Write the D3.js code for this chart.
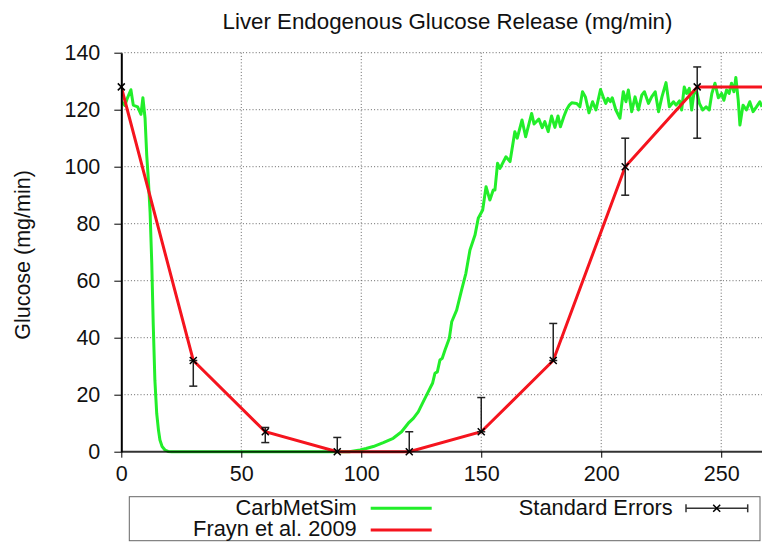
<!DOCTYPE html>
<html>
<head>
<meta charset="utf-8">
<script src="https://cdn.jsdelivr.net/npm/d3@7"></script>
<style>
    body { margin: 0; background: #fff; }
    text { font-family: "Liberation Sans", Arial, sans-serif; fill: #111; }
    .grid line { stroke: #666; stroke-width: 1; stroke-dasharray: 1, 2.2; }
    .axis path, .axis line { stroke: #000; }
    .axis text { font-size: 21.5px; fill: #111; }
</style>
</head>
<body>
<div id="chart"></div>
<script>

// tick labels
var xTicks = [0, 50, 100, 150, 200, 250];
var yTicks = [0, 20, 40, 60, 80, 100, 120, 140];

// CarbMetSim simulation (minutes, mg/min)
var simX = [0, 1.5, 2.5, 4, 5, 6.8, 8.2, 9, 9.9, 10.6, 11.3, 12, 12.7, 13.3, 14, 14.75, 15.5, 16.1, 17, 18.2, 19.5, 21,
    95, 99.5, 102, 105, 109.2, 113.3, 116.8, 119.6, 121.7, 123.75, 125.8, 127.9, 129.7, 130.7, 131.7, 132.8, 133.75,
    134.9, 136.7, 137.7, 139.75, 141.8, 143.6, 145.3, 146.7, 147.4, 148.75, 150.6, 152, 153.6, 155, 155.7, 156.8, 157.8,
    160.3, 162, 164, 165, 167, 168.5, 171, 172, 174, 175.4, 176.5, 177.9, 179.3, 180.7, 182, 183, 184.4, 185.6, 186.7,
    187.7, 189.8, 191.1, 192.2, 193.4, 194.9, 196.4, 197.8, 199.7, 200.8, 201.9, 202.8, 203.8, 204.6, 206.1, 207.8,
    209.2, 210.3, 211.3, 212.7, 214.1, 215.5, 216.9, 218, 219.7, 221, 222.5, 223.9, 225.3, 227, 228.4, 230.1, 231.2,
    232.6, 233.5, 234.6, 235.6, 236.7, 237.7, 238.6, 239.8, 240.9, 242.3, 243.7, 245, 246.1, 247.4, 248.8, 250.2,
    251.1, 252.2, 253.3, 254.3, 255.3, 256.1, 257.1, 257.8, 259.1, 260.5, 261.9, 263.3, 264.7, 266.1, 267];
var simY = [123, 121.5, 124, 127, 121.6, 121, 118.4, 124.2, 117, 104, 95, 84, 66, 45, 25, 13.5, 7.5, 4.1, 1.8, 0.6, 0.1, 0,
    0, 0.6, 1.1, 1.8, 3.2, 4.7, 7, 10, 11.7, 14, 17.5, 21, 24, 27.5, 28, 32.2, 32.8,
    35.7, 39.8, 45.6, 49.7, 56.7, 62.6, 70.8, 74.3, 76, 81.9, 84.8, 93, 88.3, 91.8, 91.8, 101.2, 99.4,
    103.5, 101.8, 112.3, 110, 116.4, 110.5, 118.7, 115, 116.7, 113.7, 115.8, 112.3, 117.8, 113.8, 117.8, 114, 117.5, 120.1, 121.6,
    122.4, 122.2, 121, 126.3, 124.5, 118.9, 122.8, 119.9, 127.1, 124.5, 122.2, 124, 122.8, 124.2, 119.9, 117,
    126.3, 122.8, 126.9, 119.3, 124.5, 119.9, 125.1, 126.3, 122.2, 124.5, 126.3, 119.3, 124.5, 129.5, 121, 122.8, 121.6,
    123.1, 119.9, 128, 125.7, 127.5, 119.9, 125.7, 126.3, 122.2, 119.9, 121, 119.9, 125.7, 129.3, 124.2, 125.7,
    123.3, 126.9, 125.7, 129.3, 126.3, 131.3, 123.3, 114.6, 121.6, 119.9, 122.8, 119.3, 121, 122.8, 121];

// Frayn et al. 2009 measurements
var fraynX = [0, 30, 60, 90, 120, 150, 180, 210, 240, 270];
var fraynY = [128, 32, 7, 0, 0, 7, 32, 100, 128, 128];

// standard errors (low / high end of each bar)
var errX = [0, 30, 60, 90, 120, 150, 180, 210, 240];
var errY = [128, 32, 7, 0, 0, 7, 32, 100, 128];
var errLow = [128, 23, 3.2, 0, 0, 7, 32, 90, 110];
var errHigh = [128, 32, 8.5, 5, 7, 19, 45, 110, 135];

var legendLabels = ["CarbMetSim", "Frayn et al. 2009", "Standard Errors"];

var totalWidth = 762, totalHeight = 542;
var margin = {top: 52.7, right: 0, bottom: 90.3, left: 121.3};
var width = totalWidth - margin.left - margin.right;
var height = totalHeight - margin.top - margin.bottom;

var svg = d3.select("#chart").append("svg")
    .attr("width", totalWidth)
    .attr("height", totalHeight);

var xScale = d3.scaleLinear().domain([0, 267]).range([0, width]);
var yScale = d3.scaleLinear().domain([0, 140]).range([height, 0]);

var g = svg.append("g")
    .attr("transform", "translate(" + [margin.left, margin.top] + ")");

svg.append("defs").append("clipPath").attr("id", "plotclip")
    .append("rect").attr("x", 0).attr("y", -5).attr("width", width).attr("height", height + 10);

// dotted grid
g.append("g").attr("class", "grid")
    .selectAll("line").data(yTicks.slice(1)).enter().append("line")
    .attr("x1", 0).attr("x2", width)
    .attr("y1", function(d) { return yScale(d); })
    .attr("y2", function(d) { return yScale(d); });

g.append("g").attr("class", "grid")
    .selectAll("line").data(xTicks.slice(1)).enter().append("line")
    .attr("y1", 0).attr("y2", height)
    .attr("x1", function(d) { return xScale(d); })
    .attr("x2", function(d) { return xScale(d); });

var plot = g.append("g").attr("clip-path", "url(#plotclip)");

var line = d3.line()
    .x(function(d) { return xScale(d[0]); })
    .y(function(d) { return yScale(d[1]); });

// simulation line
plot.append("path")
    .datum(d3.zip(simX, simY))
    .attr("fill", "none")
    .attr("stroke", "#22ee2a")
    .attr("stroke-width", 3)
    .attr("stroke-linejoin", "round")
    .attr("d", line);

// measured line
plot.append("path")
    .datum(d3.zip(fraynX, fraynY))
    .attr("fill", "none")
    .attr("stroke", "#f5141e")
    .attr("stroke-width", 3)
    .attr("d", line);

// axes
var yAxis = d3.axisLeft(yScale).tickValues(yTicks).tickSize(7).tickSizeOuter(0).tickPadding(14);
g.append("g").attr("class", "axis").call(yAxis)
    .call(function(a) { a.select(".domain").attr("stroke-width", 2); });

var xAxis = d3.axisBottom(xScale).tickValues(xTicks).tickSize(6).tickSizeOuter(0).tickPadding(8);
g.append("g").attr("class", "axis")
    .attr("transform", "translate(0," + height + ")")
    .call(xAxis)
    .call(function(a) { a.select(".domain").attr("stroke-width", 2).attr("stroke-opacity", 0.8).attr("d", "M0,0H" + width); });

// error bars
var errData = errX.map(function(x, i) {
    return {x: x, y: errY[i], lo: errLow[i], hi: errHigh[i]};
});

var eb = g.append("g").selectAll("g").data(errData).enter().append("g")
    .attr("stroke", "#222").attr("stroke-width", 1.5);

eb.filter(function(d) { return d.hi > d.lo; }).each(function(d) {
    var s = d3.select(this);
    var cx = xScale(d.x);
    s.append("line").attr("x1", cx).attr("x2", cx).attr("y1", yScale(d.lo)).attr("y2", yScale(d.hi));
    [d.lo, d.hi].forEach(function(v) {
        if (v > 0) {
            s.append("line").attr("x1", cx - 4).attr("x2", cx + 4).attr("y1", yScale(v)).attr("y2", yScale(v));
        }
    });
});

// x markers
eb.append("path")
    .attr("stroke", "#000")
    .attr("d", function(d) {
        var cx = xScale(d.x), cy = yScale(d.y), r = 3.5;
        return "M" + (cx - r) + "," + (cy - r) + "L" + (cx + r) + "," + (cy + r) +
            "M" + (cx - r) + "," + (cy + r) + "L" + (cx + r) + "," + (cy - r);
    });

// title
svg.append("text")
    .attr("x", 447.5).attr("y", 28.5)
    .attr("text-anchor", "middle")
    .style("font-size", "22.3px")
    .text("Liver Endogenous Glucose Release (mg/min)");

// y label
svg.append("text")
    .attr("text-anchor", "middle")
    .attr("transform", "translate(" + [30, 255] + ") rotate(-90)")
    .style("font-size", "21.5px")
    .text("Glucose (mg/min)");

// legend
var legend = svg.append("g");
legend.append("rect")
    .attr("x", 129.3).attr("y", 496.7).attr("width", 630.7).attr("height", 44)
    .attr("fill", "none").attr("stroke", "#666").attr("stroke-width", 1);

var legendRows = [
    {label: legendLabels[0], color: "#22ee2a", tx: 356.7, ty: 515, x1: 370.7, x2: 431.7, ly: 508.3},
    {label: legendLabels[1], color: "#f5141e", tx: 356.7, ty: 535.7, x1: 370.7, x2: 431.7, ly: 530}
];

legendRows.forEach(function(r) {
    legend.append("text").attr("x", r.tx).attr("y", r.ty)
        .attr("text-anchor", "end").style("font-size", "21.8px").text(r.label);
    legend.append("line").attr("x1", r.x1).attr("x2", r.x2).attr("y1", r.ly).attr("y2", r.ly)
        .attr("stroke", r.color).attr("stroke-width", 3);
});

legend.append("text").attr("x", 672.7).attr("y", 515)
    .attr("text-anchor", "end").style("font-size", "21.8px").text(legendLabels[2]);

var se = legend.append("g").attr("stroke", "#333").attr("stroke-width", 1.5);
se.append("line").attr("x1", 686).attr("x2", 747.7).attr("y1", 508.3).attr("y2", 508.3);
se.append("line").attr("x1", 686).attr("x2", 686).attr("y1", 504.3).attr("y2", 512.3);
se.append("line").attr("x1", 747.7).attr("x2", 747.7).attr("y1", 504.3).attr("y2", 512.3);
se.append("path").attr("stroke", "#000")
    .attr("d", "M713.2,504.8L720.2,511.8M713.2,511.8L720.2,504.8");

</script>
</body>
</html>
